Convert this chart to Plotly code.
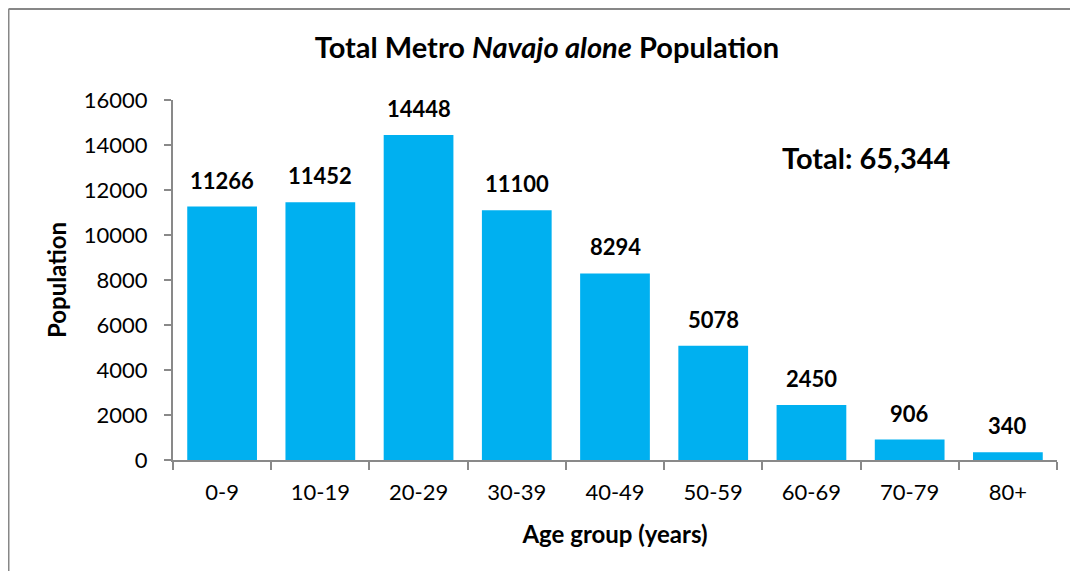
import plotly.graph_objects as go

AGE_GROUPS = ["0-9", "10-19", "20-29", "30-39", "40-49", "50-59", "60-69", "70-79", "80+"]
POPULATION = [11266, 11452, 14448, 11100, 8294, 5078, 2450, 906, 340]
Y_TICKS = [0, 2000, 4000, 6000, 8000, 10000, 12000, 14000, 16000]
TOTAL_LABEL = "Total: 65,344"

COLORS = {
    "bar": "#00b0f0",
    "axis": "#898989",
    "text": "#000000",
    "border": "#878787",
}
FONT = "Lato, Open Sans, sans-serif"

fig = go.Figure()
fig.add_trace(go.Bar(
    x=AGE_GROUPS, y=POPULATION,
    marker=dict(color=COLORS["bar"], line=dict(width=0)),
    hoverinfo="x+y",
))

# value labels above the bars
for cat, val in zip(AGE_GROUPS, POPULATION):
    fig.add_annotation(x=cat, y=val, text=f"<b>{val}</b>", showarrow=False,
                       yanchor="bottom", yshift=11,
                       font=dict(size=22, color=COLORS["text"], family=FONT))

fig.add_annotation(xref="paper", yref="paper", x=0.784, y=0.839,
                   text=f"<b>{TOTAL_LABEL}</b>", showarrow=False,
                   xanchor="center", yanchor="middle",
                   font=dict(size=29, color=COLORS["text"], family=FONT))

# outer chart border: only top and left edges are inside the picture
bx = (8.5 - 173) / 884
by = (460 - 9) / 360
border = dict(color=COLORS["border"], width=2)
fig.add_shape(type="line", xref="paper", yref="paper",
              x0=bx, x1=1.0147, y0=by, y1=by, line=border, layer="below")
fig.add_shape(type="line", xref="paper", yref="paper",
              x0=bx, x1=bx, y0=-0.308, y1=by, line=border, layer="below")

fig.update_layout(
    width=1062, height=563,
    paper_bgcolor="white", plot_bgcolor="white",
    font=dict(family=FONT, color=COLORS["text"], size=22),
    margin=dict(l=165, r=13, t=92, b=111),
    bargap=0.29,
    showlegend=False,
    title=dict(text="<b>Total Metro <i>Navajo alone</i> Population</b>",
               x=0.5075, xanchor="center", y=0.929, yanchor="middle",
               font=dict(size=29, family=FONT, color=COLORS["text"])),
)
fig.update_xaxes(
    type="category", showline=True, linecolor=COLORS["axis"], linewidth=2,
    ticks="outside", tickson="boundaries", ticklen=8, tickwidth=2,
    tickcolor=COLORS["axis"], showgrid=False, ticklabelstandoff=12,
    tickfont=dict(size=22, family=FONT),
    title=dict(text="<b>Age group (years)</b>", standoff=22,
               font=dict(size=24, family=FONT)),
)
fig.update_yaxes(
    range=[0, 16000], tickvals=Y_TICKS, tickformat="d", showline=True,
    linecolor=COLORS["axis"], linewidth=2, ticks="outside", ticklen=7,
    tickwidth=2, tickcolor=COLORS["axis"], showgrid=False, zeroline=False,
    ticklabelstandoff=12, tickfont=dict(size=22, family=FONT),
    title=dict(text="<b>Population</b>", standoff=10,
               font=dict(size=24, family=FONT)),
)

fig.write_html("out.html")
